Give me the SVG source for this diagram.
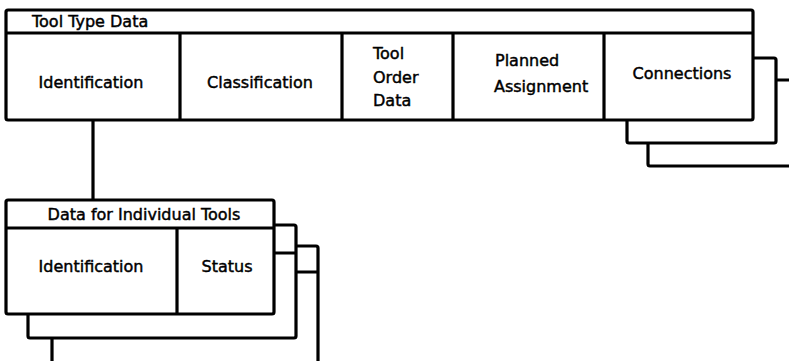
<svg xmlns="http://www.w3.org/2000/svg" width="789" height="361" viewBox="0 0 789 361">
  <style>
    .box { fill: #fff; stroke: #000; stroke-width: 3.2; stroke-linejoin: round; }
    .rule { stroke: #000; stroke-width: 3.2; fill: none; }
    .lbl { font-family: "DejaVu Sans", "Liberation Sans", sans-serif; font-size: 16px; fill: #000; stroke: #000; stroke-width: 0.45; }
    .mid { text-anchor: middle; }
  </style>
  <rect width="789" height="361" fill="#fff"/>

  <!-- Tool type record with its stacked copies -->
  <g id="tool-type-data">
    <rect class="box" x="648" y="80" width="160" height="86" rx="2"/>
    <rect class="box" x="627" y="58" width="149" height="85" rx="2"/>
    <rect class="box" x="6" y="10" width="747" height="110" rx="2"/>
    <line class="rule" x1="6" y1="33" x2="753" y2="33"/>
    <line class="rule" x1="180" y1="33" x2="180" y2="120"/>
    <line class="rule" x1="342" y1="33" x2="342" y2="120"/>
    <line class="rule" x1="453" y1="33" x2="453" y2="120"/>
    <line class="rule" x1="604" y1="33" x2="604" y2="120"/>
    <text class="lbl" x="32" y="27">Tool Type Data</text>
    <text class="lbl mid" x="91" y="88">Identification</text>
    <text class="lbl mid" x="260" y="88">Classification</text>
    <text class="lbl" x="373" y="59">Tool</text>
    <text class="lbl" x="373" y="83">Order</text>
    <text class="lbl" x="373" y="106">Data</text>
    <text class="lbl" x="495" y="66">Planned</text>
    <text class="lbl" x="494" y="92">Assignment</text>
    <text class="lbl mid" x="682" y="79">Connections</text>
  </g>

  <!-- Individual tool record with its stacked copies -->
  <g id="individual-tools">
    <rect class="box" x="52" y="246" width="266" height="140" rx="2"/>
    <line class="rule" x1="52" y1="272" x2="318" y2="272"/>
    <rect class="box" x="28" y="225" width="268" height="113" rx="2"/>
    <line class="rule" x1="28" y1="253" x2="296" y2="253"/>
    <rect class="box" x="6" y="200" width="268" height="114" rx="2"/>
    <line class="rule" x1="6" y1="228" x2="274" y2="228"/>
    <line class="rule" x1="177" y1="228" x2="177" y2="314"/>
    <text class="lbl mid" x="144" y="220">Data for Individual Tools</text>
    <text class="lbl mid" x="91" y="272">Identification</text>
    <text class="lbl mid" x="227" y="272">Status</text>
  </g>

  <!-- Connectors -->
  <g id="connectors">
    <line class="rule" x1="93" y1="120" x2="93" y2="200"/>
  </g>
</svg>
